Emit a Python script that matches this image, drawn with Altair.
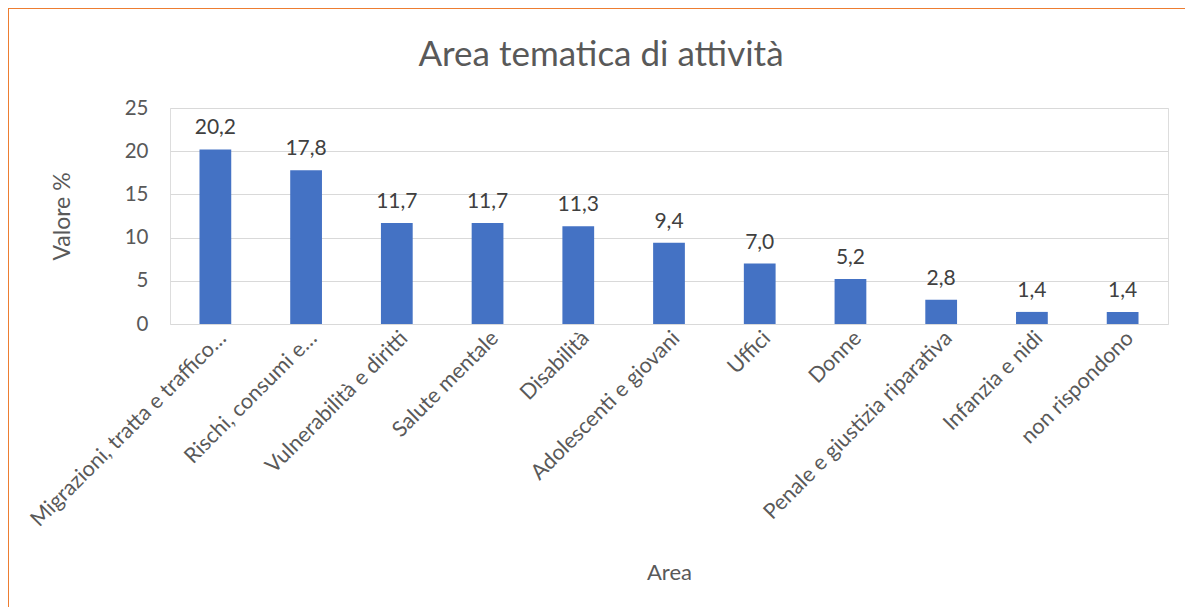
import altair as alt
import pandas as pd

areas = [
    "Migrazioni, tratta e traffico…",
    "Rischi, consumi e…",
    "Vulnerabilità e diritti",
    "Salute mentale",
    "Disabilità",
    "Adolescenti e giovani",
    "Uffici",
    "Donne",
    "Penale e giustizia riparativa",
    "Infanzia e nidi",
    "non rispondono",
]
values = [20.2, 17.8, 11.7, 11.7, 11.3, 9.4, 7.0, 5.2, 2.8, 1.4, 1.4]
y_ticks = [0, 5, 10, 15, 20, 25]
chart_title = "Area tematica di attività"

df = pd.DataFrame({"Area": areas, "Valore": values})

FONT = "Lato"
TEXT = "#595959"

x = alt.X(
    "Area:N",
    sort=areas,
    title="Area",
    scale=alt.Scale(paddingInner=0.65, paddingOuter=0.325),
    axis=alt.Axis(
        labelAngle=-45,
        labelAlign="right",
        labelBaseline="top",
        labelFontSize=21.5,
        labelColor=TEXT,
        labelFont=FONT,
        labelPadding=3,
        labelLimit=500,
        ticks=False,
        domain=False,
        titleFontSize=22,
        titleFontWeight="normal",
        titleColor=TEXT,
        titleFont=FONT,
        titlePadding=38,
    ),
)
y = alt.Y(
    "Valore:Q",
    title="Valore %",
    scale=alt.Scale(domain=[0, 25], nice=False),
    axis=alt.Axis(
        values=y_ticks,
        grid=True,
        gridColor="#D9D9D9",
        ticks=False,
        domain=False,
        labelFontSize=20.5,
        labelColor=TEXT,
        labelFont=FONT,
        labelPadding=22,
        titleFontSize=23,
        titleFontWeight="normal",
        titleColor=TEXT,
        titleFont=FONT,
        titlePadding=50,
    ),
)

base = alt.Chart(df)
bars = base.mark_bar(color="#4472C4").encode(x=x, y=y)
labels = (
    base.transform_calculate(lab="replace(format(datum.Valore, '.1f'), '.', ',')")
    .mark_text(dy=-21, fontSize=21, color="#404040", font=FONT)
    .encode(x=alt.X("Area:N", sort=areas), y=alt.Y("Valore:Q"), text="lab:N")
)

one = alt.Chart(pd.DataFrame({"t": [chart_title]}))
title_mark = one.mark_text(
    fontSize=35, color=TEXT, font=FONT, align="center", baseline="middle"
).encode(x=alt.value(431), y=alt.value(-53), text="t:N")
border_left = one.mark_rule(color="#ED7D31", strokeWidth=2).encode(
    x=alt.value(-162), y=alt.value(-100), y2=alt.value(520)
)
border_top = one.mark_rule(color="#ED7D31", strokeWidth=2).encode(
    x=alt.value(-163), x2=alt.value(1030), y=alt.value(-100)
)

chart = (
    alt.layer(bars, labels, title_mark, border_left, border_top)
    .properties(
        width=998,
        height=216,
        autosize=alt.AutoSizeParams(type="none"),
        padding={"left": 162, "top": 100, "right": 17, "bottom": 283},
    )
    .configure_view(strokeWidth=0)
    .configure(background="white")
)

chart.save("out.html", embed_options={"renderer": "svg", "actions": False})
